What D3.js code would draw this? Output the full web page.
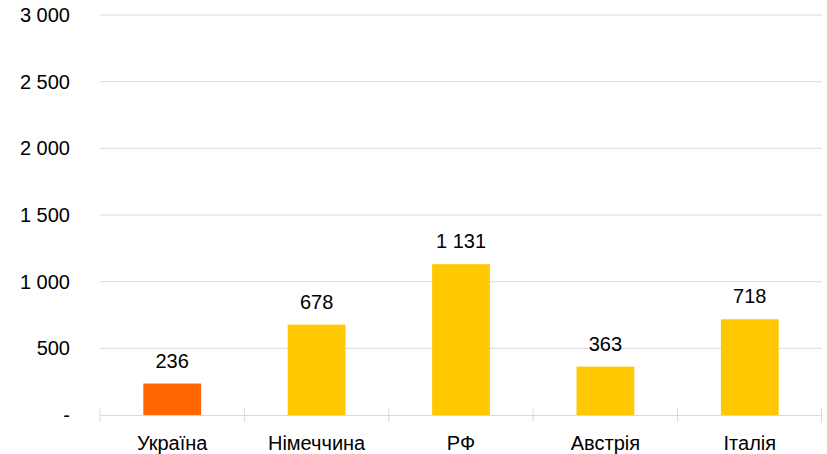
<!DOCTYPE html>
<html>
<head>
<meta charset="utf-8">
<script src="https://cdn.jsdelivr.net/npm/d3@7"></script>
<style>
  body { margin: 0; background: #fff; }
  text { font-family: "Liberation Sans", Arial, sans-serif; fill: #000; }
</style>
</head>
<body>
<div id="chart"></div>
<script>
var svgWidth = 827;
var svgHeight = 454;

var margin = { top: 15, right: 5, bottom: 39, left: 100 };
var width = svgWidth - margin.left - margin.right;
var height = svgHeight - margin.top - margin.bottom;

// data
var countries = ["Україна", "Німеччина", "РФ", "Австрія", "Італія"];
var values = [236, 678, 1131, 363, 718];
var barColors = ["#FF6600", "#FFC800", "#FFC800", "#FFC800", "#FFC800"];
var yTicks = [0, 500, 1000, 1500, 2000, 2500, 3000];

function fmt(v) {
  if (v === 0) return "-";
  return d3.format(",")(v).replace(/,/g, " ");
}

var svg = d3.select("#chart")
  .append("svg")
  .attr("width", svgWidth)
  .attr("height", svgHeight);

var chartGroup = svg.append("g")
  .attr("transform", `translate(${margin.left}, ${margin.top})`);

var xScale = d3.scaleBand()
  .domain(countries)
  .range([0, width])
  .paddingInner(0.6)
  .paddingOuter(0.3);

var yScale = d3.scaleLinear()
  .domain([0, 3000])
  .range([height, 0]);

// gridlines
chartGroup.selectAll(".grid")
  .data(yTicks.slice(1))
  .enter()
  .append("line")
  .attr("x1", 0)
  .attr("x2", width)
  .attr("y1", d => yScale(d))
  .attr("y2", d => yScale(d))
  .attr("stroke", "#d9d9d9")
  .attr("stroke-width", 1);

// y axis labels
var leftAxis = d3.axisLeft(yScale)
  .tickValues(yTicks)
  .tickFormat(fmt)
  .tickSize(0)
  .tickPadding(30);

var yAxis = chartGroup.append("g").call(leftAxis);
yAxis.select(".domain").remove();
yAxis.selectAll("text").style("font-size", "20px");

// bars
chartGroup.selectAll("rect")
  .data(values)
  .enter()
  .append("rect")
  .attr("x", (d, i) => xScale(countries[i]))
  .attr("y", d => yScale(d))
  .attr("width", xScale.bandwidth())
  .attr("height", d => height - yScale(d))
  .attr("fill", (d, i) => barColors[i]);

// x axis line + cross ticks
var step = xScale.step();
var bottomAxis = d3.axisBottom(xScale).tickSize(0).tickPadding(21);
var xAxis = chartGroup.append("g")
  .attr("transform", `translate(0, ${height})`)
  .call(bottomAxis);
xAxis.select(".domain").attr("stroke", "#d9d9d9");
xAxis.selectAll("text").style("font-size", "20px");

chartGroup.selectAll(".xtick")
  .data(d3.range(countries.length + 1))
  .enter()
  .append("line")
  .attr("x1", i => Math.min(i * step, width - 0.5))
  .attr("x2", i => Math.min(i * step, width - 0.5))
  .attr("y1", height - 7)
  .attr("y2", height + 7)
  .attr("stroke", "#d9d9d9");

// value labels
chartGroup.selectAll(".val")
  .data(values)
  .enter()
  .append("text")
  .attr("x", (d, i) => xScale(countries[i]) + xScale.bandwidth() / 2)
  .attr("y", d => yScale(d) - 16)
  .attr("text-anchor", "middle")
  .style("font-size", "20px")
  .text(fmt);
</script>
</body>
</html>
